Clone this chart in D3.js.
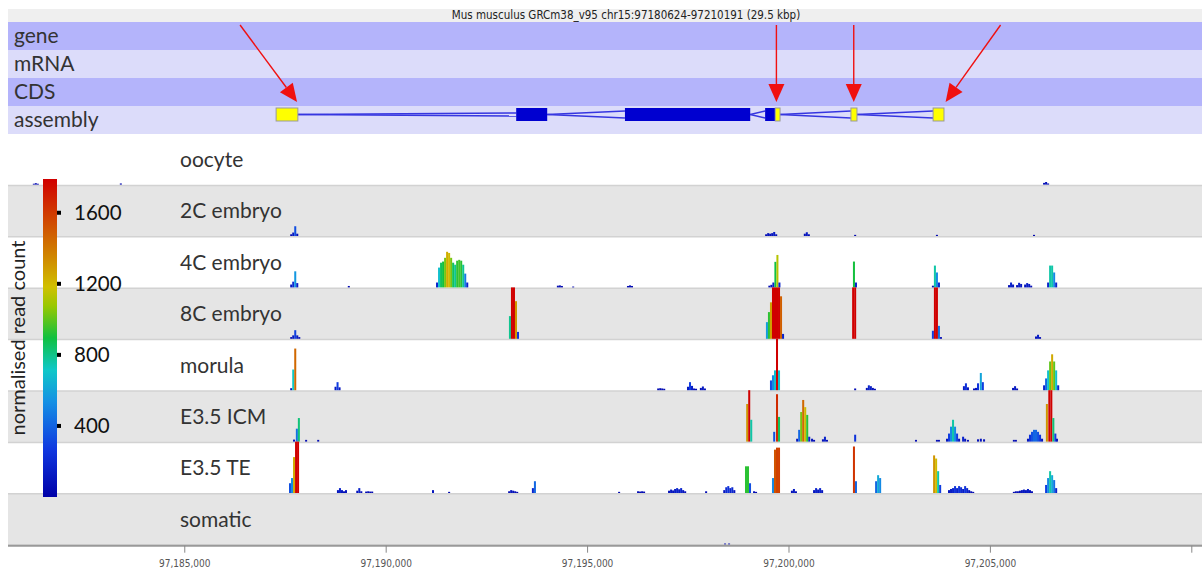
<!DOCTYPE html>
<html>
<head>
<meta charset="utf-8">
<script src="https://cdn.jsdelivr.net/npm/d3@7"></script>
<style>
  body { margin: 0; background: #fff; }
  svg text { font-family: Lato, "Open Sans", sans-serif; }
  .narrow { font-family: "Liberation Sans Narrow", "DejaVu Sans Condensed", "Liberation Sans", sans-serif !important; }
</style>
</head>
<body>
<div id="chart"></div>
<script>
(function(){

  var width = 1202, height = 573;

  // ---- data ----
  var region = [97180624, 97210191];
  var title = 'Mus musculus GRCm38_v95 chr15:97180624-97210191 (29.5 kbp)';
  var featureRows = ['gene', 'mRNA', 'CDS', 'assembly'];
  var trackNames = ['oocyte', '2C embryo', '4C embryo', '8C embryo', 'morula', 'E3.5 ICM', 'E3.5 TE', 'somatic'];
  var axisTicks = [97185000, 97190000, 97195000, 97200000, 97205000, 97210000];
  var legendTicks = [400, 800, 1200, 1600];
  var legendMax = 1790;
  var legendLabel = 'normalised read count';

  // exons in kb: [start, end, marked]
  var exons = [
    [97187.28, 97187.82, true],
    [97193.24, 97194.01, false],
    [97195.94, 97199.05, false],
    [97199.42, 97199.67, false],
    [97199.67, 97199.79, true],
    [97201.55, 97201.70, true],
    [97203.59, 97203.86, true]
  ];
  // arrows: target position (kb), horizontal offset of the tail
  var arrows = [[97187.80, -57], [97199.70, 0], [97201.62, 0], [97203.90, 55]];

  // coverage per track: [bin start (kb), normalised read count]
  var oocyte = [[97181.24,30],[97181.29,50],[97181.34,30],[97183.40,40],[97206.32,60],[97206.37,90],[97206.42,40]];

  var twoC = [[97187.63,60],[97187.68,120],[97187.73,340],[97187.78,80],
    [97199.42,60],[97199.47,100],[97199.52,80],[97199.57,100],[97199.62,140],[97199.67,60],
    [97200.38,80],[97200.43,130],[97200.48,60],[97201.63,40],[97203.66,40],[97206.07,40]];

  var fourC = [[97187.63,100],[97187.68,200],[97187.73,560],[97187.78,150],
    [97189.06,50],
    [97191.25,170],[97191.30,690],[97191.35,860],[97191.40,900],[97191.45,1030],[97191.50,1240],[97191.55,1200],[97191.60,1030],
    [97191.65,860],[97191.70,790],[97191.75,930],[97191.80,960],[97191.85,930],[97191.90,790],[97191.95,480],[97192.00,170],
    [97194.25,60],[97194.30,70],[97194.35,50],[97194.63,30],
    [97195.99,50],[97196.04,70],[97196.09,50],
    [97199.50,60],[97199.55,90],[97199.60,170],[97199.65,890],[97199.70,1130],[97199.75,170],
    [97201.60,900],[97201.65,170],
    [97203.56,60],[97203.61,760],[97203.66,520],[97203.71,170],
    [97205.45,80],[97205.50,170],[97205.55,100],[97205.65,80],[97205.70,160],[97205.75,120],[97205.85,100],[97205.90,150],[97205.95,120],[97206.00,60],
    [97206.42,170],[97206.47,760],[97206.52,760],[97206.57,520],[97206.62,170]];

  var eightC = [[97187.63,60],[97187.68,120],[97187.73,300],[97187.78,120],[97187.83,60],
    [97193.06,790],[97193.11,1900],[97193.16,1900],[97193.21,1310],[97193.26,240],
    [97199.44,580],[97199.49,930],[97199.54,1270],[97199.59,1900],[97199.64,1900],[97199.69,1900],[97199.74,1900],[97199.79,1480],[97199.84,170],
    [97201.58,1900],[97201.63,1900],
    [97203.56,280],[97203.61,1900],[97203.66,1900],[97203.71,450],[97203.76,60],
    [97206.12,80],[97206.17,140],[97206.22,60]];

  var morula = [[97187.63,70],[97187.68,720],[97187.73,1450],
    [97188.73,120],[97188.78,280],[97188.83,100],
    [97196.74,60],[97196.79,70],[97196.84,60],[97196.89,50],
    [97197.48,120],[97197.53,280],[97197.58,150],[97197.63,60],[97197.68,50],[97197.80,80],[97197.85,130],[97197.90,60],
    [97199.54,340],[97199.59,520],[97199.64,690],[97199.69,1900],[97199.74,690],
    [97201.63,60],
    [97201.92,80],[97201.97,170],[97202.02,140],[97202.07,80],[97202.12,50],
    [97204.33,140],[97204.38,240],[97204.43,100],
    [97204.58,60],[97204.63,80],[97204.68,240],[97204.75,600],[97204.80,280],
    [97205.55,80],[97205.60,140],[97205.65,60],
    [97206.32,170],[97206.37,410],[97206.42,690],[97206.47,1000],[97206.52,1250],[97206.57,1000],[97206.62,690],[97206.67,170]];

  var icm = [[97187.70,70],[97187.77,450],[97187.82,820],[97188.00,60],[97188.30,60],
    [97198.95,1310],[97199.00,1900],[97199.05,760],
    [97199.62,340],[97199.69,1650],[97199.74,860],
    [97200.19,100],[97200.24,410],[97200.29,1030],[97200.34,1450],[97200.39,1200],[97200.44,930],[97200.49,170],[97200.56,100],[97200.61,60],
    [97200.83,80],[97200.88,170],[97200.93,60],
    [97201.63,240],
    [97203.14,60],[97203.66,60],[97203.71,60],
    [97203.91,100],[97203.96,280],[97204.01,520],[97204.06,760],[97204.11,520],[97204.16,280],[97204.21,100],
    [97204.31,170],[97204.36,100],[97204.43,60],[97204.68,80],[97204.75,100],[97204.83,80],
    [97205.57,60],[97205.62,60],
    [97205.92,100],[97205.97,240],[97206.02,340],[97206.07,410],[97206.12,410],[97206.17,340],[97206.22,240],[97206.27,100],
    [97206.39,1310],[97206.45,1900],[97206.50,1900],[97206.55,820],[97206.60,280],[97206.64,100]];

  var te = [[97187.60,340],[97187.65,520],[97187.70,1250],[97187.75,1900],[97187.80,1900],
    [97188.79,100],[97188.84,170],[97188.89,100],[97188.94,60],[97188.99,100],
    [97189.27,80],[97189.32,170],[97189.37,60],[97189.49,50],[97189.54,60],[97189.59,50],[97189.64,50],
    [97191.15,100],[97191.55,40],
    [97193.04,60],[97193.09,100],[97193.14,80],[97193.19,60],[97193.24,40],
    [97193.63,170],[97193.68,410],
    [97195.77,40],[97196.24,60],[97196.29,50],[97196.34,60],[97196.39,50],
    [97197.01,80],[97197.06,120],[97197.11,90],[97197.16,140],[97197.21,170],[97197.26,130],[97197.31,170],[97197.36,100],[97197.41,60],
    [97197.93,60],
    [97198.38,100],[97198.43,200],[97198.48,240],[97198.53,170],[97198.58,200],[97198.63,100],
    [97198.92,930],[97198.97,930],[97199.02,340],
    [97199.12,60],[97199.17,40],
    [97199.59,520],[97199.64,1510],[97199.69,1580],[97199.74,1580],
    [97200.06,80],[97200.11,140],[97200.16,60],
    [97200.61,100],[97200.66,170],[97200.71,120],[97200.76,170],[97200.81,100],
    [97201.60,1620],[97201.65,410],
    [97202.15,410],[97202.20,620],[97202.25,520],
    [97203.59,1310],[97203.64,1200],[97203.69,760],[97203.74,280],
    [97203.96,100],[97204.01,140],[97204.06,170],[97204.11,240],[97204.16,170],[97204.21,240],[97204.26,200],[97204.31,140],
    [97204.36,240],[97204.41,170],[97204.46,100],[97204.51,60],[97204.56,40],
    [97205.57,40],[97205.62,60],[97205.67,60],[97205.72,80],[97205.77,100],[97205.82,120],[97205.87,100],[97205.92,140],[97205.97,100],[97206.02,60],
    [97206.37,280],[97206.42,520],[97206.47,760],[97206.52,620],[97206.57,450],[97206.62,170]];

  var somatic = [[97198.40,30],[97198.50,30]];

  var coverage = [oocyte, twoC, fourC, eightC, morula, icm, te, somatic];

  // ---- layout ----
  var left = 8, right = 1199;
  var rowTop = 22, rowH = 28;
  var trackTop = 134, trackH = 51.4;
  var binBp = 50;

  var x = d3.scaleLinear().domain(region).range([left, right]);
  var barH = d3.scaleLinear().domain([0, legendMax]).range([0, trackH]).clamp(true);

  var stopT = [0, 0.15, 0.3, 0.4, 0.5, 0.6, 0.66, 0.75, 0.86, 1];
  var stopC = ['#0000a8', '#1038e0', '#1490e4', '#10c8c8', '#10c040', '#98c800', '#d0c000', '#d08a00', '#d04c00', '#d00000'];
  var color = d3.scaleLinear()
        .domain(stopT.map(function(t){ return t * legendMax; }))
        .range(stopC)
        .clamp(true);

  var svg = d3.select('#chart')
        .append('svg')
          .attr('width', width)
          .attr('height', height);

  // title strip
  svg.append('rect')
    .attr('x', left).attr('y', 9)
    .attr('width', width - left).attr('height', 13)
    .attr('fill', '#efefef');

  // feature rows
  var rows = svg.append('g').attr('class', 'rows');
  rows.selectAll('rect')
    .data(featureRows)
    .enter().append('rect')
      .attr('x', left)
      .attr('y', function(d, i){ return rowTop + i * rowH; })
      .attr('width', width - left)
      .attr('height', rowH)
      .attr('fill', function(d, i){ return i % 2 ? '#dcdcfa' : '#b4b4fb'; });
  rows.selectAll('text')
    .data(featureRows)
    .enter().append('text')
      .attr('x', 14)
      .attr('y', function(d, i){ return rowTop + i * rowH + rowH / 2; })
      .attr('dy', '0.35em')
      .attr('font-size', '21px')
      .attr('fill', '#333')
      .text(function(d){ return d; });

  svg.append('text')
    .attr('class', 'narrow')
    .attr('x', 626).attr('y', 19)
    .attr('text-anchor', 'middle')
    .attr('font-size', '11.5px')
    .attr('fill', '#222')
    .text(title);

  // gene model in the assembly row
  var model = svg.append('g').attr('class', 'model');
  var midY = rowTop + 3 * rowH + 8.5;
  for (var i = 1; i < exons.length; i++) {
    var a = x(exons[i-1][1] * 1000), b = x(exons[i][0] * 1000);
    if (b - a < 1) continue;
    var spread = (b - a) > 150 ? 1.5 : 3.5;
    [-spread, spread].forEach(function(s){
      model.append('line')
        .attr('x1', a).attr('y1', midY)
        .attr('x2', b).attr('y2', midY + s)
        .attr('stroke', '#3636e0')
        .attr('stroke-width', 1.5);
    });
  }
  model.selectAll('rect')
    .data(exons)
    .enter().append('rect')
      .attr('x', function(d){ return x(d[0] * 1000); })
      .attr('y', midY - 6.5)
      .attr('width', function(d){ return x(d[1] * 1000) - x(d[0] * 1000); })
      .attr('height', 13)
      .attr('fill', function(d){ return d[2] ? '#ffff00' : '#0000d0'; })
      .attr('stroke', function(d){ return d[2] ? '#999' : 'none'; })
      .attr('stroke-width', 1);

  // tracks
  var tracks = svg.append('g').attr('class', 'tracks');
  tracks.selectAll('rect.bg')
    .data(trackNames)
    .enter().append('rect')
      .attr('class', 'bg')
      .attr('x', left)
      .attr('y', function(d, i){ return trackTop + i * trackH; })
      .attr('width', width - left)
      .attr('height', trackH)
      .attr('fill', function(d, i){ return i % 2 ? '#e5e5e5' : '#ffffff'; });
  tracks.selectAll('line.sep')
    .data(d3.range(1, trackNames.length + 1))
    .enter().append('line')
      .attr('class', 'sep')
      .attr('x1', left).attr('x2', width)
      .attr('y1', function(d){ return trackTop + d * trackH; })
      .attr('y2', function(d){ return trackTop + d * trackH; })
      .attr('stroke', '#d2d2d2')
      .attr('stroke-width', 1.5);

  coverage.forEach(function(series, i){
    var base = trackTop + (i + 1) * trackH - 0.8;
    tracks.append('g')
      .selectAll('rect')
      .data(series)
      .enter().append('rect')
        .attr('x', function(d){ return x(d[0] * 1000); })
        .attr('width', function(d){ return x(d[0] * 1000 + binBp) - x(d[0] * 1000); })
        .attr('y', function(d){ return base - barH(d[1]); })
        .attr('height', function(d){ return barH(d[1]); })
        .attr('fill', function(d){ return color(d[1]); });
  });

  tracks.selectAll('text')
    .data(trackNames)
    .enter().append('text')
      .attr('x', 180)
      .attr('y', function(d, i){ return trackTop + i * trackH + trackH / 2; })
      .attr('dy', '0.35em')
      .attr('font-size', '21px')
      .attr('fill', '#333')
      .text(function(d){ return d; });

  // arrows
  arrows.forEach(function(d){
    var tx = x(d[0] * 1000), ty = 102, sx = tx + d[1], sy = 25;
    var ang = Math.atan2(ty - sy, tx - sx);
    var L = 18, W = 8;
    var bx = tx - L * Math.cos(ang), by = ty - L * Math.sin(ang);
    svg.append('line')
      .attr('x1', sx).attr('y1', sy).attr('x2', bx).attr('y2', by)
      .attr('stroke', '#f01010').attr('stroke-width', 1.4);
    svg.append('path')
      .attr('d', 'M' + tx + ',' + ty +
                 'L' + (bx + W * Math.sin(ang)) + ',' + (by - W * Math.cos(ang)) +
                 'L' + (bx - W * Math.sin(ang)) + ',' + (by + W * Math.cos(ang)) + 'Z')
      .attr('fill', '#f01010');
  });

  // colour legend
  var ly = d3.scaleLinear().domain([0, legendMax]).range([497, 179]);
  var grad = svg.append('defs').append('linearGradient')
    .attr('id', 'jet')
    .attr('x1', 0).attr('y1', 1).attr('x2', 0).attr('y2', 0);
  grad.selectAll('stop')
    .data(stopT)
    .enter().append('stop')
      .attr('offset', function(d){ return d; })
      .attr('stop-color', function(d, i){ return stopC[i]; });
  svg.append('rect')
    .attr('x', 43).attr('y', ly(legendMax))
    .attr('width', 14).attr('height', ly(0) - ly(legendMax))
    .attr('fill', 'url(#jet)');
  var lg = svg.append('g').selectAll('g')
    .data(legendTicks)
    .enter().append('g')
      .attr('transform', function(d){ return 'translate(57,' + ly(d) + ')'; });
  lg.append('rect')
    .attr('x', 0).attr('y', -2).attr('width', 4).attr('height', 4)
    .attr('fill', '#000');
  lg.append('text')
    .attr('x', 17).attr('dy', '0.35em')
    .attr('font-size', '20.5px')
    .attr('fill', '#111')
    .text(function(d){ return d; });
  svg.append('text')
    .attr('transform', 'translate(25,' + ((ly(0) + ly(legendMax)) / 2) + ') rotate(-90)')
    .attr('text-anchor', 'middle')
    .attr('font-size', '20px')
    .attr('fill', '#222')
    .text(legendLabel);

  // axis
  var axis = svg.append('g')
    .attr('class', 'narrow')
    .attr('transform', 'translate(0,' + (trackTop + trackNames.length * trackH + 0.5) + ')')
    .call(d3.axisBottom(x)
      .tickValues(axisTicks)
      .tickSizeOuter(0)
      .tickSize(7)
      .tickFormat(function(d){ return d < 97210000 ? d3.format(',')(d) : ''; }));
  axis.select('.domain').attr('stroke', '#999').attr('stroke-width', 2).attr('d', 'M' + left + ',0H' + width);
  axis.selectAll('.tick line').attr('stroke', '#888');
  axis.selectAll('.tick text')
    .attr('class', 'narrow')
    .attr('font-size', '10px')
    .attr('fill', '#555')
    .attr('dy', '1.1em');

})();
</script>
</body>
</html>
